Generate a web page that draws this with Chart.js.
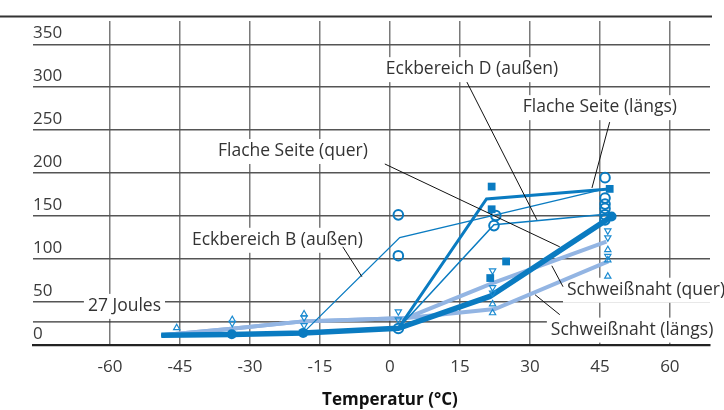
<!DOCTYPE html>
<html>
<head>
<meta charset="utf-8">
<script src="https://cdn.jsdelivr.net/npm/chart.js@4.4.1/dist/chart.umd.min.js"></script>
<style>
    html, body { margin: 0; padding: 0; background: #fff; }
    #wrap { width: 724px; height: 410px; position: relative; }
</style>
</head>
<body>
<div id="wrap"><canvas id="kerbChart"></canvas></div>
<script>
// Achsen
const xTicks = [-60, -45, -30, -15, 0, 15, 30, 45, 60];
const yTicks = [0, 50, 100, 150, 200, 250, 300, 350];
const xTitle = "Temperatur (°C)";

// Mittelwert-Linien (Temperatur / Kerbschlagarbeit J)
const flacheQuerT = [-49, -34, -18.6, 1.8, 21.4, 47.5];
const flacheQuerJ = [11.4, 12.4, 14.2, 19.5, 56.6, 149.5];
const flacheLaengsT = [-49, -34, -18.6, 1.8, 20.7, 47];
const flacheLaengsJ = [11.4, 12.4, 14.2, 19.5, 170, 181.7];
const eckDT = [-49, -34, -18.6, 1.8, 22.3, 46.8];
const eckDJ = [11.4, 12.4, 14.2, 19.5, 140, 152.6];
const eckBT = [-18.6, 2.1, 46.8];
const eckBJ = [14.2, 125, 182.5];
const nahtQuerT = [-49, -34, -18.6, 3.6, 22, 46.4];
const nahtQuerJ = [11.4, 19, 27.6, 31.6, 72, 120.5];
const nahtLaengsT = [-49, -34, -18.6, 3.6, 22.5, 46.8];
const nahtLaengsJ = [11.4, 19, 27.6, 31.6, 42, 97.3];

// Einzelwerte
const squareT = [21.8, 21.8, 24.9, 21.5, 47.1];
const squareJ = [184.4, 158, 97.3, 78, 181.7];
const ringT = [1.8, 1.8, 1.8, 22.7, 22.3, 46.1, 46.1, 46.1, 46.1, 46.1, 46.1];
const ringJ = [19.3, 151.5, 104, 150.7, 139, 194.8, 171, 164, 159, 151.5, 145.7];
const dotT = [-33.9, -18.6, 47.5];
const dotJ = [12.6, 14.2, 149.5];
const upT = [-45.7, -33.8, -18.4, 22, 22, 46.7, 46.7, 46.7];
const upJ = [20, 29.5, 36, 47.8, 37.4, 110.9, 99, 80];
const downT = [-33.8, -18.4, -18.4, 1.8, 1.8, 22, 22, 22, 46.7, 46.7, 46.7];
const downJ = [25.5, 32, 23, 38.9, 29.6, 86.5, 67, 60.6, 133, 125, 103.5];

// Grenzwert
const limitJ = 27;
const limitText = "27 Joules";
const limitTextT = -56.9;

// Beschriftungen mit Hinweislinien (in Datenkoordinaten)
const labelTexts = [
    "Eckbereich D (außen)",
    "Flache Seite (längs)",
    "Flache Seite (quer)",
    "Eckbereich B (außen)",
    "Schweißnaht (quer)",
    "Schweißnaht (längs)"
];
const labelT = [17.6, 45, -20.8, -24.1, 54.9, 51.9];
const labelJ = [321, 276.8, 225.8, 122.5, 64.4, 18];
const leaderFrom = [[16.5, 305.9], [47.1, 259.4], [-1.1, 210.7], [-10.1, 114.3], [37.1, 67.9], [36.4, 35.4]];
const leaderTo = [[31.5, 145.7], [43.3, 182.8], [36.4, 114.3], [-6, 79.5], [34.7, 92.3], [31.1, 58.6]];

const DARK = "#0a7bc1";
const LIGHT = "#93b5e3";
const TRI = "#1b8bd1";
const FONT = "\"Open Sans\", \"Noto Sans\", sans-serif";

function toPoints(xs, ys) {
    return xs.map((x, i) => ({ x, y: ys[i] }));
}

function lineSet(xs, ys, color, width, order) {
    return {
        data: toPoints(xs, ys),
        borderColor: color,
        borderWidth: width,
        pointRadius: 0,
        tension: 0,
        fill: false,
        order
    };
}

function markerSet(xs, ys, opts) {
    return Object.assign({
        data: toPoints(xs, ys),
        showLine: false,
        order: 0
    }, opts);
}

function drawLabel(ctx, text, cx, cy) {
    ctx.font = "17.5px " + FONT;
    const w = ctx.measureText(text).width;
    ctx.fillStyle = "#fff";
    ctx.fillRect(cx - w / 2 - 4, cy - 12, w + 8, 25);
    ctx.fillStyle = "#333";
    ctx.textAlign = "center";
    ctx.textBaseline = "middle";
    ctx.fillText(text, cx, cy);
}

const annotations = {
    id: "annotations",
    beforeDatasetsDraw(chart) {
        const { ctx, chartArea } = chart;
        const xs = chart.scales.x;
        const ys = chart.scales.y;
        ctx.save();
        const yl = ys.getPixelForValue(limitJ);
        ctx.strokeStyle = "#333";
        ctx.lineWidth = 1.3;
        ctx.beginPath();
        ctx.moveTo(chartArea.left, yl);
        ctx.lineTo(chartArea.right, yl);
        ctx.stroke();
        drawLabel(ctx, limitText, xs.getPixelForValue(limitTextT), yl - 16);
        labelTexts.forEach((t, i) => {
            drawLabel(ctx, t, xs.getPixelForValue(labelT[i]), ys.getPixelForValue(labelJ[i]));
        });
        ctx.restore();
    },
    afterDatasetsDraw(chart) {
        const { ctx } = chart;
        const xs = chart.scales.x;
        const ys = chart.scales.y;
        ctx.save();
        ctx.strokeStyle = "#111";
        ctx.lineWidth = 1;
        leaderFrom.forEach((p, i) => {
            const q = leaderTo[i];
            ctx.beginPath();
            ctx.moveTo(xs.getPixelForValue(p[0]), ys.getPixelForValue(p[1]));
            ctx.lineTo(xs.getPixelForValue(q[0]), ys.getPixelForValue(q[1]));
            ctx.stroke();
        });
        ctx.restore();
    },
    afterDraw(chart) {
        const { ctx, chartArea } = chart;
        const xs = chart.scales.x;
        ctx.save();
        ctx.strokeStyle = "#333";
        ctx.lineWidth = 2;
        ctx.beginPath();
        ctx.moveTo(0, chartArea.top - 4.5);
        ctx.lineTo(chartArea.right + 2, chartArea.top - 4.5);
        ctx.stroke();
        ctx.fillStyle = "#111";
        ctx.font = "bold 17px " + FONT;
        ctx.textAlign = "center";
        ctx.textBaseline = "middle";
        ctx.fillText(xTitle, xs.getPixelForValue(0), chartArea.bottom + 55);
        ctx.restore();
    }
};

new Chart(document.getElementById("kerbChart"), {
    type: "line",
    data: {
        datasets: [
            markerSet(squareT, squareJ, { pointStyle: "rect", pointRadius: 5.5, backgroundColor: DARK, borderWidth: 0 }),
            markerSet(ringT, ringJ, { pointStyle: "circle", pointRadius: 4.8, backgroundColor: "rgba(255,255,255,0)", borderColor: DARK, borderWidth: 2 }),
            markerSet(dotT, dotJ, { pointStyle: "circle", pointRadius: 5, backgroundColor: DARK, borderWidth: 0 }),
            markerSet(upT, upJ, { pointStyle: "triangle", pointRadius: 3.6, backgroundColor: "rgba(255,255,255,0)", borderColor: TRI, borderWidth: 1.2 }),
            markerSet(downT, downJ, { pointStyle: "triangle", pointRotation: 180, pointRadius: 3.6, backgroundColor: "rgba(255,255,255,0)", borderColor: TRI, borderWidth: 1.2 }),
            lineSet(flacheQuerT, flacheQuerJ, DARK, 5.5, 1),
            lineSet(flacheLaengsT, flacheLaengsJ, DARK, 3, 1),
            lineSet(eckDT, eckDJ, DARK, 1.5, 1),
            lineSet(eckBT, eckBJ, DARK, 1.3, 1),
            lineSet(nahtQuerT, nahtQuerJ, LIGHT, 4, 2),
            lineSet(nahtLaengsT, nahtLaengsJ, LIGHT, 4, 2)
        ]
    },
    options: {
        responsive: true,
        maintainAspectRatio: false,
        animation: false,
        layout: {
            padding: { left: 33, right: 14, top: 21, bottom: 20.5 }
        },
        plugins: {
            legend: { display: false },
            tooltip: { enabled: false }
        },
        scales: {
            x: {
                type: "linear",
                min: -76.5,
                max: 68.6,
                afterBuildTicks: (scale) => {
                    scale.ticks = xTicks.map((v) => ({ value: v }));
                },
                grid: { color: "#7a7a7a", lineWidth: 1.5, drawTicks: false },
                border: { color: "#222", width: 2.2 },
                ticks: {
                    color: "#3a3a3a",
                    font: { family: FONT, size: 17 },
                    padding: 12,
                    maxRotation: 0
                }
            },
            y: {
                type: "linear",
                min: 0,
                max: 377,
                afterBuildTicks: (scale) => {
                    scale.ticks = yTicks.map((v) => ({ value: v }));
                },
                grid: { color: "#555", lineWidth: 1.4, drawTicks: false },
                border: { display: false },
                ticks: {
                    mirror: true,
                    padding: 0,
                    labelOffset: -11,
                    color: "#3a3a3a",
                    font: { family: FONT, size: 17 }
                }
            }
        }
    },
    plugins: [annotations]
});
</script>
</body>
</html>
